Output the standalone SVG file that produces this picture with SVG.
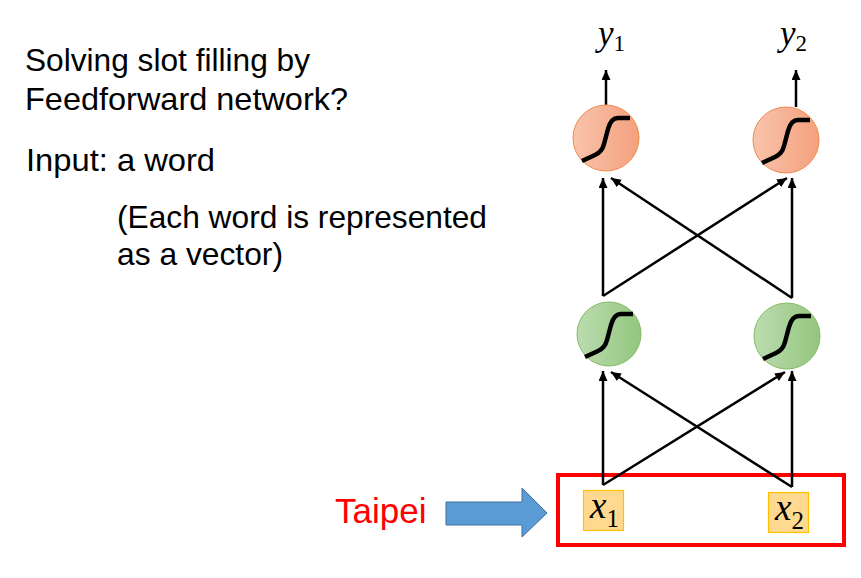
<svg xmlns="http://www.w3.org/2000/svg" width="861" height="578" viewBox="0 0 861 578">
  <style>
    .t { font-family: "Liberation Sans", Arial, sans-serif; font-size: 32px; fill: #000; }
    .m { font-family: "Liberation Serif", "Times New Roman", serif; font-style: italic; fill: #000; }
    .sub { font-family: "Liberation Serif", "Times New Roman", serif; font-style: normal; }
    .conn { stroke: #000; stroke-width: 2.5; fill: none; marker-end: url(#ah); }
    .sig { stroke: #000; stroke-width: 4.5; fill: none; stroke-linejoin: round; }
    .box { fill: #FFD98F; stroke: #FFC000; stroke-width: 1.2; }
  </style>
  <defs>
    <marker id="ah" markerUnits="userSpaceOnUse" markerWidth="11" markerHeight="10" refX="10" refY="4.5" orient="auto">
      <path d="M0,0 L10,4.5 L0,9 z" fill="#000"/>
    </marker>
    <linearGradient id="og" x1="0" y1="0" x2="1" y2="0">
      <stop offset="0" stop-color="#F8C4AC"/>
      <stop offset="1" stop-color="#F4A07D"/>
    </linearGradient>
    <linearGradient id="gg" x1="0" y1="0" x2="1" y2="0">
      <stop offset="0" stop-color="#BCDCB0"/>
      <stop offset="1" stop-color="#93C67E"/>
    </linearGradient>
    <path id="sigmoid" class="sig" d="M -24 23 L -11 17 Q -4 14 -2 6 L 2 -9 Q 5 -20 12 -20 L 24 -20"/>
  </defs>

  <g id="text-left">
    <text class="t" x="25" y="71" textLength="285" lengthAdjust="spacingAndGlyphs">Solving slot filling by</text>
    <text class="t" x="25" y="110" textLength="323" lengthAdjust="spacingAndGlyphs">Feedforward network?</text>
    <text class="t" x="26" y="171" textLength="189" lengthAdjust="spacingAndGlyphs">Input: a word</text>
    <text class="t" x="117" y="228" textLength="370" lengthAdjust="spacingAndGlyphs">(Each word is represented</text>
    <text class="t" x="117" y="265" textLength="166" lengthAdjust="spacingAndGlyphs">as a vector)</text>
  </g>

  <g id="taipei">
    <text x="335" y="523" font-family="Liberation Sans, Arial, sans-serif" font-size="35" fill="#FF0000">Taipei</text>
    <polygon points="446,502 522,502 522,488 547,513 522,537 522,525 446,525" fill="#5B9BD5" stroke="#41719C" stroke-width="1"/>
  </g>

  <g id="input-frame">
    <rect x="558" y="475" width="286" height="70" fill="none" stroke="#FF0000" stroke-width="4"/>
  </g>

  <g id="connectors">
    <line class="conn" x1="606" y1="105" x2="606" y2="70"/>
    <line class="conn" x1="796" y1="107" x2="796" y2="70"/>
    <line class="conn" x1="603" y1="296" x2="603" y2="178"/>
    <line class="conn" x1="792" y1="298" x2="792" y2="178"/>
    <line class="conn" x1="603" y1="296" x2="787" y2="178"/>
    <line class="conn" x1="792" y1="298" x2="611" y2="178"/>
    <line class="conn" x1="603" y1="485" x2="603" y2="371"/>
    <line class="conn" x1="792" y1="487" x2="792" y2="371"/>
    <line class="conn" x1="603" y1="485" x2="785" y2="372"/>
    <line class="conn" x1="792" y1="487" x2="611" y2="372"/>
  </g>

  <g id="y1">
    <text class="m" x="598" y="45" font-size="35">y<tspan class="sub" font-size="23" dy="6">1</tspan></text>
  </g>
  <g id="y2">
    <text class="m" x="780" y="45" font-size="35">y<tspan class="sub" font-size="23" dy="6">2</tspan></text>
  </g>

  <g id="out1">
    <circle cx="606" cy="138" r="33" fill="url(#og)" stroke="#F08A4B" stroke-width="1"/>
    <use href="#sigmoid" x="606" y="138"/>
  </g>
  <g id="out2">
    <circle cx="786" cy="140" r="33" fill="url(#og)" stroke="#F08A4B" stroke-width="1"/>
    <use href="#sigmoid" x="786" y="140"/>
  </g>

  <g id="hid1">
    <circle cx="609" cy="334" r="32" fill="url(#gg)" stroke="#82BB65" stroke-width="1"/>
    <use href="#sigmoid" x="609" y="334"/>
  </g>
  <g id="hid2">
    <circle cx="787" cy="336" r="33" fill="url(#gg)" stroke="#82BB65" stroke-width="1"/>
    <use href="#sigmoid" x="787" y="336"/>
  </g>

  <g id="x1">
    <rect class="box" x="583.5" y="490.5" width="40" height="40"/>
    <text class="m" x="590" y="518" font-size="37">x<tspan class="sub" font-size="25" dy="9">1</tspan></text>
  </g>
  <g id="x2">
    <rect class="box" x="768.5" y="492.5" width="40" height="40"/>
    <text class="m" x="775" y="520" font-size="37">x<tspan class="sub" font-size="25" dy="9">2</tspan></text>
  </g>
</svg>
